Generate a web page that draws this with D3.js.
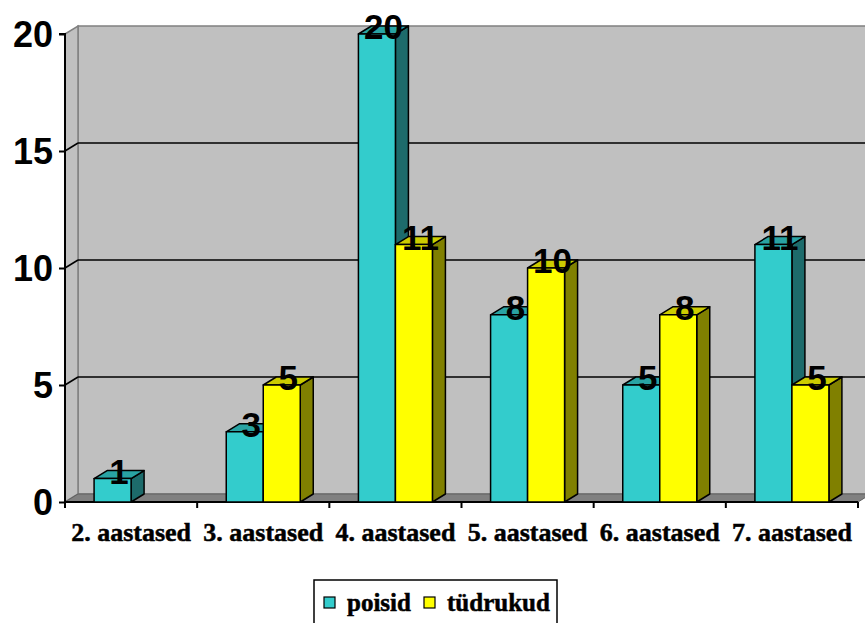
<!DOCTYPE html>
<html>
<head>
<meta charset="utf-8">
<script src="https://cdn.jsdelivr.net/npm/d3@7"></script>
<style>
  body { margin:0; background:#fff; }
  svg { display:block; }
  .serif { font-family:'Liberation Serif', 'Times New Roman', Times, serif; font-weight:bold; }
  .sans { font-family:'Liberation Sans', Arial, Helvetica, sans-serif; font-weight:bold; }
</style>
</head>
<body>
<svg id="svg" width="865" height="623"></svg>
<script>
const categories = ['2. aastased', '3. aastased', '4. aastased', '5. aastased', '6. aastased', '7. aastased'];
const seriesNames = ['poisid', 'tüdrukud'];
const poisid = [1, 3, 20, 8, 5, 11];
const tudrukud = [null, 5, 11, 10, 8, 5];
const yTicks = [0, 5, 10, 15, 20];

const svg = d3.select('#svg');
const x0 = 65, x1 = 858, yb = 502, yt = 34;
const dx = 13, dy = -8;   // depth offset
const bw = 37;

const x = d3.scaleBand().domain(categories).range([x0, x1]);
const xs = d3.scaleBand().domain(seriesNames).range([-bw, bw]);
const y = d3.scaleLinear().domain([0, 20]).range([yb, yt]);

const colors = {
  poisid:   { front:'#33CCCC', top:'#29A3A3', side:'#1D6B6B' },
  'tüdrukud': { front:'#FFFF00', top:'#CCCC00', side:'#808000' }
};

// walls
const right = x1 + dx;
svg.append('rect').attr('x', x0 + dx).attr('y', yt + dy).attr('width', right - x0 - dx).attr('height', yb - yt)
  .attr('fill', '#C0C0C0').attr('stroke', '#808080').attr('stroke-width', 1.5);
svg.append('polygon')
  .attr('points', [[x0, yt], [x0 + dx, yt + dy], [x0 + dx, yb + dy], [x0, yb]].join(' '))
  .attr('fill', '#C0C0C0').attr('stroke', '#808080').attr('stroke-width', 1.5);
svg.append('polygon')
  .attr('points', [[x0, yb], [x0 + dx, yb + dy], [right, yb + dy], [x1, yb]].join(' '))
  .attr('fill', '#808080').attr('stroke', '#606060');

// gridlines
const grid = svg.append('g');
yTicks.filter(t => t > 0 && t < 20).forEach(t => {
  grid.append('line').attr('x1', x0).attr('y1', y(t)).attr('x2', x0 + dx).attr('y2', y(t) + dy).attr('stroke', '#000').attr('stroke-width', 1.5);
  grid.append('line').attr('x1', x0 + dx).attr('y1', y(t) + dy).attr('x2', right).attr('y2', y(t) + dy).attr('stroke', '#000').attr('stroke-width', 1.5);
});

// axes
svg.append('g').attr('transform', `translate(${x0},0)`)
  .call(d3.axisLeft(y).tickValues(yTicks).tickSize(6).tickFormat(d3.format('d')))
  .call(g => g.select('.domain').attr('stroke-width', 2).attr('d', `M-6,${yt}H0V${yb}`))
  .call(g => g.selectAll('.tick line').attr('stroke-width', 2))
  .call(g => g.selectAll('.tick text').attr('x', -12).attr('dy', '0.36em')
    .attr('class', 'sans').attr('font-family', null).attr('font-size', null)
    .style('font-size', '36px').attr('fill', '#000'));

const xAxis = svg.append('g').attr('transform', `translate(0,${yb})`);
xAxis.append('line').attr('x1', x0).attr('x2', x1).attr('stroke', '#000').attr('stroke-width', 2);
const bounds = categories.map(c => x(c)).concat([x1]);
xAxis.selectAll('line.tk').data(bounds).join('line').attr('class', 'tk')
  .attr('x1', d => d).attr('x2', d => d).attr('y1', 0).attr('y2', 6).attr('stroke', '#000').attr('stroke-width', 2);
xAxis.selectAll('text').data(categories).join('text')
  .attr('class', 'serif')
  .attr('x', d => x(d) + x.bandwidth() / 2).attr('y', 39).attr('text-anchor', 'middle')
  .style('font-size', '26px').attr('stroke', '#000').attr('stroke-width', 0.5)
  .text(d => d);

// bars
const rows = [];
categories.forEach((c, i) => {
  rows.push({ cat: c, s: 'poisid', v: poisid[i] });
  rows.push({ cat: c, s: 'tüdrukud', v: tudrukud[i] });
});
const bars = rows.filter(d => d.v != null);

const bg = svg.append('g').attr('stroke', '#000').attr('stroke-width', 1.5).attr('stroke-linejoin', 'round');
bars.forEach(d => {
  const bx = x(d.cat) + x.bandwidth() / 2 + xs(d.s);
  const ty = y(d.v), w = xs.bandwidth();
  const col = colors[d.s];
  bg.append('polygon').attr('fill', col.side)
    .attr('points', [[bx + w, ty], [bx + w + dx, ty + dy], [bx + w + dx, yb + dy], [bx + w, yb]].join(' '));
  bg.append('polygon').attr('fill', col.top)
    .attr('points', [[bx, ty], [bx + dx, ty + dy], [bx + w + dx, ty + dy], [bx + w, ty]].join(' '));
  bg.append('rect').attr('fill', col.front).attr('x', bx).attr('y', ty).attr('width', w).attr('height', yb - ty);
});

// data labels
svg.append('g').selectAll('text').data(bars).join('text')
  .attr('class', 'sans')
  .attr('x', d => x(d.cat) + x.bandwidth() / 2 + xs(d.s) + xs.bandwidth() / 2 + dx / 2)
  .attr('y', d => y(d.v) + 5)
  .attr('text-anchor', 'middle')
  .style('font-size', '35px')
  .text(d => d.v);

// legend
const lg = svg.append('g');
lg.append('rect').attr('x', 314).attr('y', 580).attr('width', 243).attr('height', 60)
  .attr('fill', '#fff').attr('stroke', '#000').attr('stroke-width', 1.5);
const lx = [324, 424];
seriesNames.forEach((s, i) => {
  lg.append('rect').attr('x', lx[i]).attr('y', 597).attr('width', 11).attr('height', 11)
    .attr('fill', colors[s].front).attr('stroke', '#000').attr('stroke-width', 1.2);
  lg.append('text').attr('class', 'serif').attr('x', lx[i] + 23).attr('y', 611)
    .style('font-size', '25px').attr('stroke', '#000').attr('stroke-width', 0.5)
    .text(s);
});
</script>
</body>
</html>
